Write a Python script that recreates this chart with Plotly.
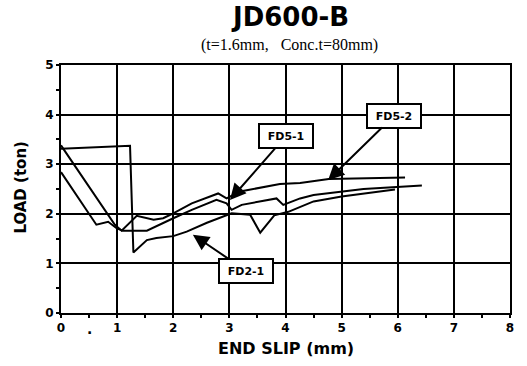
import plotly.graph_objects as go

# ---- data ----
fd21_x = [0, 1.23, 1.29, 1.53, 1.70, 2.00, 2.24, 2.60, 3.04, 3.37, 3.55, 3.80, 4.05, 4.50, 5.00, 5.39, 5.95]
fd21_y = [3.31, 3.37, 1.22, 1.47, 1.51, 1.55, 1.64, 1.82, 2.01, 1.98, 1.62, 1.97, 2.04, 2.25, 2.35, 2.41, 2.49]

fd51_x = [0, 0.63, 0.84, 0.99, 1.10, 1.53, 2.00, 2.33, 2.77, 2.95, 3.04, 3.22, 3.84, 3.96, 4.26, 4.50, 5.39, 6.43]
fd51_y = [2.84, 1.78, 1.84, 1.71, 1.66, 1.66, 1.91, 2.08, 2.28, 2.21, 2.08, 2.18, 2.31, 2.18, 2.31, 2.38, 2.50, 2.57]

fd52_x = [0, 0.96, 1.08, 1.35, 1.65, 1.82, 2.00, 2.33, 2.80, 2.95, 3.19, 3.90, 4.26, 4.77, 6.13]
fd52_y = [3.38, 1.78, 1.66, 1.96, 1.88, 1.91, 2.01, 2.21, 2.41, 2.31, 2.45, 2.60, 2.62, 2.70, 2.73]

x_ticks = [0, 1, 2, 3, 4, 5, 6, 7, 8]
y_ticks = [0, 1, 2, 3, 4, 5]

BOLD = "DejaVu Sans"

fig = go.Figure()
for xs, ys, nm in [(fd21_x, fd21_y, "FD2-1"), (fd51_x, fd51_y, "FD5-1"), (fd52_x, fd52_y, "FD5-2")]:
    fig.add_trace(go.Scatter(x=xs, y=ys, mode="lines", name=nm,
                             line=dict(color="black", width=2), showlegend=False))

axis_common = dict(showgrid=True, gridcolor="black", gridwidth=2,
                   showline=True, linecolor="black", linewidth=2, mirror=True,
                   ticks="outside", ticklen=3, tickwidth=2, tickcolor="black",
                   zeroline=False,
                   tickfont=dict(family=BOLD, size=12, color="black", weight="bold"),
                   minor=dict(dtick=0.5, ticks="outside", ticklen=3, tickwidth=2,
                              tickcolor="black", showgrid=False))

fig.update_xaxes(range=[0, 8], tickvals=x_ticks, ticktext=[str(v) for v in x_ticks], **axis_common)
fig.update_yaxes(range=[0, 5], tickvals=y_ticks, ticktext=[str(v) for v in y_ticks], **axis_common)

annotations = [
    dict(text="JD600-B", xref="paper", yref="paper", x=0.51, y=1.195, showarrow=False,
         font=dict(family=BOLD, size=26, color="black", weight="bold"), xanchor="center", yanchor="middle"),
    dict(text="(t=1.6mm,\u00a0\u00a0\u00a0Conc.t=80mm)", xref="paper", yref="paper", x=0.51, y=1.08,
         showarrow=False, font=dict(family="Liberation Serif", size=16, color="black"),
         xanchor="center", yanchor="middle"),
    dict(text="END SLIP (mm)", xref="paper", yref="paper", x=0.5, y=-0.145, showarrow=False,
         font=dict(family=BOLD, size=16, color="black", weight="bold"), xanchor="center", yanchor="middle"),
    dict(text="LOAD (ton)", xref="paper", yref="paper", x=-0.09, y=0.508, showarrow=False,
         textangle=-90, font=dict(family=BOLD, size=15, color="black", weight="bold"),
         xanchor="center", yanchor="middle"),
    dict(text=".", xref="x", yref="y", x=0.5, y=0, yshift=-16, showarrow=False,
         font=dict(family=BOLD, size=14, color="black", weight="bold")),
]

labels = [
    ("FD5-1", 3.01, 2.28, 4.01, 3.57),
    ("FD5-2", 4.76, 2.68, 5.94, 3.98),
    ("FD2-1", 2.35, 1.58, 3.30, 0.85),
]
for txt, tx, ty, bx, by in labels:
    annotations.append(dict(text=txt, x=tx, y=ty, ax=bx, ay=by, xref="x", yref="y",
                            axref="x", ayref="y", showarrow=True, arrowhead=2,
                            arrowsize=1.6, arrowwidth=2, arrowcolor="black",
                            bordercolor="black", borderwidth=2, bgcolor="white",
                            width=50, height=20, borderpad=1,
                            font=dict(family=BOLD, size=11, color="black", weight="bold")))

fig.update_layout(width=527, height=366, margin=dict(l=61, r=17, t=65, b=53),
                  paper_bgcolor="white", plot_bgcolor="white",
                  annotations=annotations)

fig.write_html("out.html")
